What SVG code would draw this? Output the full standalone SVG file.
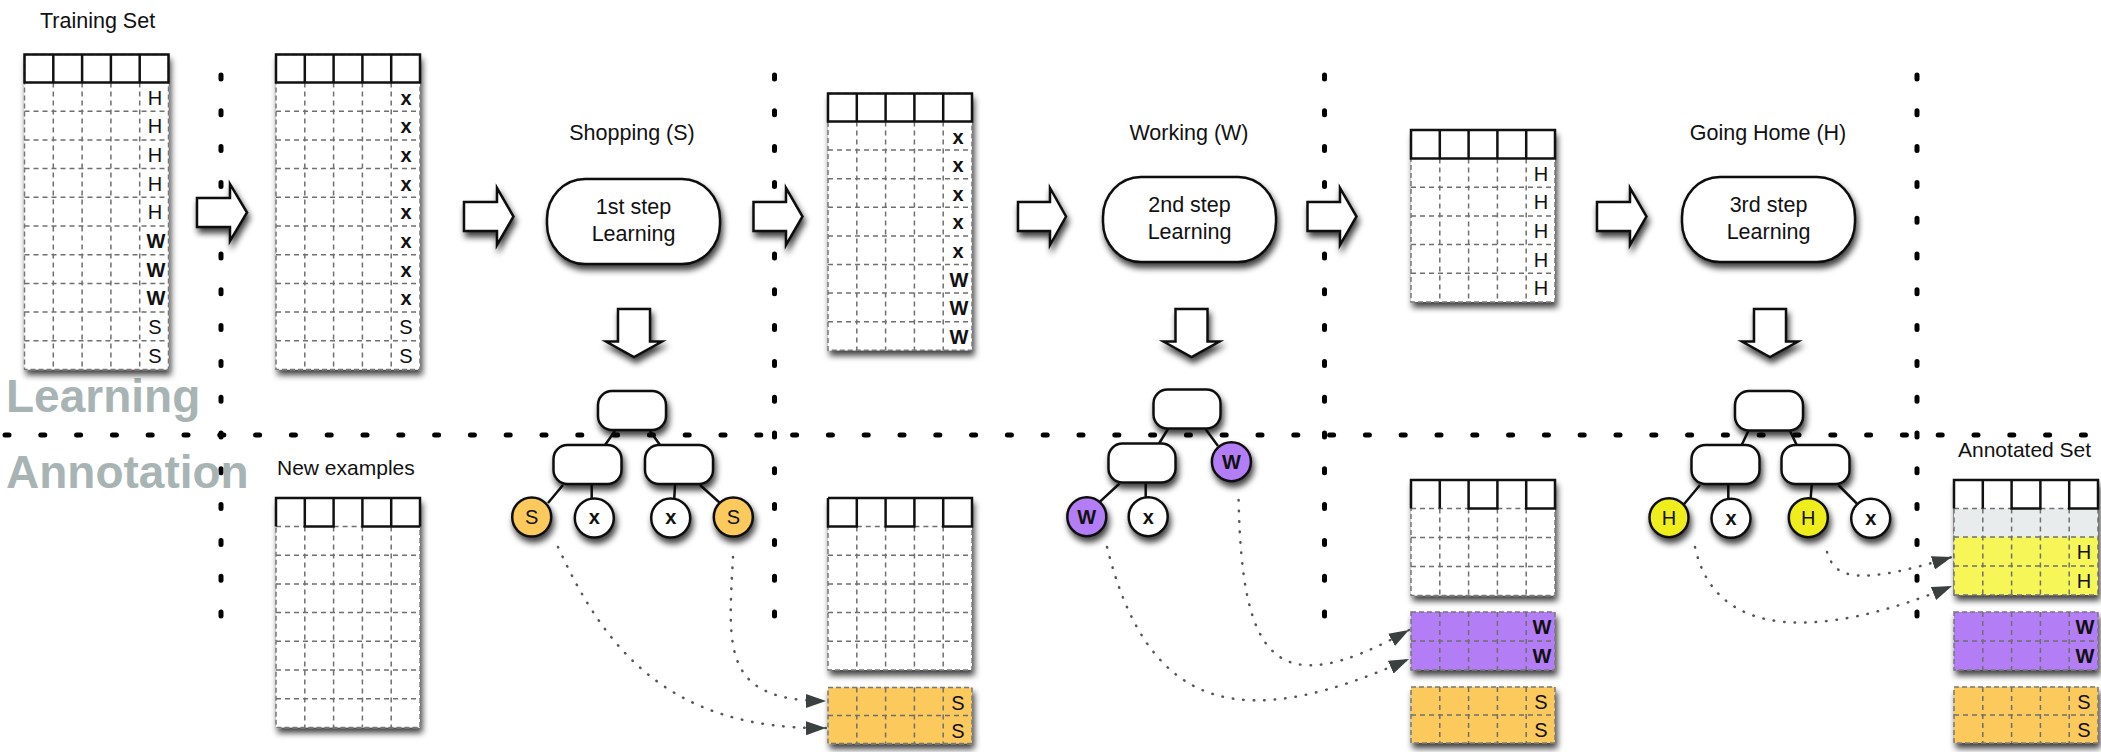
<svg xmlns="http://www.w3.org/2000/svg" width="2101" height="752" viewBox="0 0 2101 752">
<defs>
<filter id="sh" x="-20%" y="-20%" width="150%" height="160%"><feDropShadow dx="2" dy="5" stdDeviation="3" flood-color="#000" flood-opacity="0.75"/></filter>
<marker id="ah" markerUnits="userSpaceOnUse" markerWidth="20" markerHeight="14" refX="20" refY="7" orient="auto"><path d="M0,0 L20,7 L0,14 Z" fill="#3a3f3f"/></marker>
</defs>
<style>
.sh{filter:url(#sh)}
.bd{fill:#fff;stroke:#777;stroke-width:1.5;stroke-dasharray:5 3}
.g{fill:none;stroke:#6f6f6f;stroke-width:1.5;stroke-dasharray:5 4}
.hd{fill:none;stroke:#111;stroke-width:2.5}
.ln{fill:none;stroke:#111;stroke-width:2.5}
.fw{fill:#fff;stroke:#111;stroke-width:2.5}
.t{font-family:"Liberation Sans",Arial,sans-serif;fill:#111}
.lb{font-family:"Liberation Sans",Arial,sans-serif;font-size:20px;text-anchor:middle;fill:#111}
.b{font-weight:bold}
.big{font-family:"Liberation Sans",Arial,sans-serif;font-size:46px;font-weight:bold;fill:#a8b4b4}
.dv{stroke:#000;stroke-width:5;stroke-linecap:round;stroke-dasharray:4 31.8}
.dc{fill:none;stroke:#555;stroke-width:2.5;stroke-linecap:round;stroke-dasharray:0.5 10}
.or{fill:#fcc95c}
.pu{fill:#b37ef5}
.ye{fill:#f6f659}
.gr{fill:#e8ecec}
</style>

<g id="separators">
<line class="dv" x1="5" y1="435" x2="2101" y2="435"/>
<line class="dv" x1="221" y1="75" x2="221" y2="620"/>
<line class="dv" x1="774.5" y1="75" x2="774.5" y2="620"/>
<line class="dv" x1="1324.5" y1="75" x2="1324.5" y2="620"/>
<line class="dv" x1="1917" y1="75" x2="1917" y2="620"/>
</g>

<g id="phase-labels">
<text class="big" x="6" y="412">Learning</text>
<text class="big" x="6" y="488">Annotation</text>
</g>

<g id="training-set">
<text class="t" x="40" y="28" font-size="21.5">Training Set</text>
<rect class="bd sh" x="24.5" y="54.5" width="144" height="315"/>
<path class="g" d="M24.5,111.2H168.5M24.5,139.9H168.5M24.5,168.6H168.5M24.5,197.3H168.5M24.5,226H168.5M24.5,254.7H168.5M24.5,283.4H168.5M24.5,312.1H168.5M24.5,340.8H168.5M53.3,82.5V369.5M82.1,82.5V369.5M110.9,82.5V369.5M139.7,82.5V369.5"/>
<path class="hd" d="M24.5,54.5H168.5V82.5H24.5ZM53.3,54.5V82.5M82.1,54.5V82.5M110.9,54.5V82.5M139.7,54.5V82.5"/>
<text class="lb" x="155" y="104.5">H</text><text class="lb" x="155" y="133.2">H</text><text class="lb" x="155" y="161.9">H</text><text class="lb" x="155" y="190.6">H</text><text class="lb" x="155" y="219.3">H</text>
<text class="lb b" x="156" y="248">W</text><text class="lb b" x="156" y="276.7">W</text><text class="lb b" x="156" y="305.4">W</text>
<text class="lb" x="155" y="334.1">S</text><text class="lb" x="155" y="362.8">S</text>
</g>

<g id="relabelled-set">
<rect class="bd sh" x="276" y="54.5" width="144" height="315"/>
<path class="g" d="M276,111.2H420M276,139.9H420M276,168.6H420M276,197.3H420M276,226H420M276,254.7H420M276,283.4H420M276,312.1H420M276,340.8H420M304.8,82.5V369.5M333.6,82.5V369.5M362.4,82.5V369.5M391.2,82.5V369.5"/>
<path class="hd" d="M276,54.5H420V82.5H276ZM304.8,54.5V82.5M333.6,54.5V82.5M362.4,54.5V82.5M391.2,54.5V82.5"/>
<text class="lb b" x="406" y="104.5">x</text><text class="lb b" x="406" y="133.2">x</text><text class="lb b" x="406" y="161.9">x</text><text class="lb b" x="406" y="190.6">x</text><text class="lb b" x="406" y="219.3">x</text><text class="lb b" x="406" y="248">x</text><text class="lb b" x="406" y="276.7">x</text><text class="lb b" x="406" y="305.4">x</text>
<text class="lb" x="406" y="334.1">S</text><text class="lb" x="406" y="362.8">S</text>
</g>

<g id="block-arrows">
<path class="fw sh" d="M197,198H230V184L247,212.5L230,241V227H197Z"/>
<path class="fw sh" d="M464,202H497V188L513.5,216.5L497,245V231H464Z"/>
<path class="fw sh" d="M753.5,202H786V188L802.5,216.5L786,245V231H753.5Z"/>
<path class="fw sh" d="M1018,202H1050V188L1066,216.5L1050,245V231H1018Z"/>
<path class="fw sh" d="M1307.5,202H1340V188L1356.5,216.5L1340,245V231H1307.5Z"/>
<path class="fw sh" d="M1597,202H1630V188L1646.5,216.5L1630,245V231H1597Z"/>
<path class="fw sh" d="M618,309H650V341.5H662L634,357L606,341.5H618Z"/>
<path class="fw sh" d="M1175.5,309H1207.5V341.5H1219.5L1191.5,357L1163.5,341.5H1175.5Z"/>
<path class="fw sh" d="M1754,309H1786V341.5H1798L1770,357L1742,341.5H1754Z"/>
</g>

<g id="step1">
<text class="t" x="632" y="140" font-size="21.5" text-anchor="middle">Shopping (S)</text>
<rect class="fw sh" x="547" y="179" width="173" height="85" rx="38" ry="40"/>
<text class="t" x="633.5" y="214" font-size="21.5" text-anchor="middle">1st step</text>
<text class="t" x="633.5" y="241" font-size="21.5" text-anchor="middle">Learning</text>
</g>

<g id="step2">
<text class="t" x="1189" y="140" font-size="21.5" text-anchor="middle">Working (W)</text>
<rect class="fw sh" x="1103" y="177" width="173" height="85" rx="38" ry="40"/>
<text class="t" x="1189.5" y="212" font-size="21.5" text-anchor="middle">2nd step</text>
<text class="t" x="1189.5" y="239" font-size="21.5" text-anchor="middle">Learning</text>
</g>

<g id="step3">
<text class="t" x="1768" y="140" font-size="21.5" text-anchor="middle">Going Home (H)</text>
<rect class="fw sh" x="1682" y="177" width="173" height="85" rx="38" ry="40"/>
<text class="t" x="1768.5" y="212" font-size="21.5" text-anchor="middle">3rd step</text>
<text class="t" x="1768.5" y="239" font-size="21.5" text-anchor="middle">Learning</text>
</g>

<g id="set-after-step1">
<rect class="bd sh" x="828" y="93.5" width="144" height="256.8"/>
<path class="g" d="M828,150.1H972M828,178.7H972M828,207.3H972M828,235.9H972M828,264.5H972M828,293.1H972M828,321.7H972M856.8,121.5V350.3M885.6,121.5V350.3M914.4,121.5V350.3M943.2,121.5V350.3"/>
<path class="hd" d="M828,93.5H972V121.5H828ZM856.8,93.5V121.5M885.6,93.5V121.5M914.4,93.5V121.5M943.2,93.5V121.5"/>
<text class="lb b" x="958" y="143.5">x</text><text class="lb b" x="958" y="172.1">x</text><text class="lb b" x="958" y="200.7">x</text><text class="lb b" x="958" y="229.3">x</text><text class="lb b" x="958" y="257.9">x</text>
<text class="lb b" x="959" y="286.5">W</text><text class="lb b" x="959" y="315.1">W</text><text class="lb b" x="959" y="343.7">W</text>
</g>

<g id="set-after-step2">
<rect class="bd sh" x="1411" y="130" width="144" height="172"/>
<path class="g" d="M1411,187.2H1555M1411,215.9H1555M1411,244.6H1555M1411,273.3H1555M1439.8,158.5V302M1468.6,158.5V302M1497.4,158.5V302M1526.2,158.5V302"/>
<path class="hd" d="M1411,130H1555V158.5H1411ZM1439.8,130V158.5M1468.6,130V158.5M1497.4,130V158.5M1526.2,130V158.5"/>
<text class="lb" x="1541" y="180.5">H</text><text class="lb" x="1541" y="209.2">H</text><text class="lb" x="1541" y="237.9">H</text><text class="lb" x="1541" y="266.6">H</text><text class="lb" x="1541" y="295.3">H</text>
</g>

<g id="tree1">
<path class="ln" d="M615,431L605,445M650,431L660,445M563,485L548,503M591.7,485V498M675,485L674.3,498M700,485L720,503"/>
<rect class="fw sh" x="598" y="391" width="68" height="39" rx="14"/>
<rect class="fw sh" x="553.5" y="445" width="68" height="39" rx="14"/>
<rect class="fw sh" x="645" y="445" width="68" height="39" rx="14"/>
<circle class="sh or" cx="531.7" cy="517" r="19.5" stroke="#111" stroke-width="2.5"/>
<circle class="fw sh" cx="594.3" cy="518" r="19.5"/>
<circle class="fw sh" cx="670.7" cy="518" r="19.5"/>
<circle class="sh or" cx="733.3" cy="517" r="19.5" stroke="#111" stroke-width="2.5"/>
<text class="lb" x="531.7" y="524">S</text><text class="lb b" x="594.3" y="524">x</text><text class="lb b" x="670.7" y="524">x</text><text class="lb" x="733.3" y="524">S</text>
</g>

<g id="tree2">
<path class="ln" d="M1168,429L1159,443.5M1205.5,429L1218,446M1119.6,483.5L1100,501.7M1145.7,483.5V497"/>
<rect class="fw sh" x="1153.5" y="389.5" width="67" height="39" rx="14"/>
<rect class="fw sh" x="1108.5" y="443.5" width="67" height="39" rx="14"/>
<circle class="sh pu" cx="1231.4" cy="461.7" r="19.5" stroke="#111" stroke-width="2.5"/>
<circle class="sh pu" cx="1086.8" cy="516.7" r="19.5" stroke="#111" stroke-width="2.5"/>
<circle class="fw sh" cx="1148.2" cy="516.7" r="19.5"/>
<text class="lb b" x="1231.4" y="468.5">W</text><text class="lb b" x="1086.8" y="523.5">W</text><text class="lb b" x="1148.2" y="523.5">x</text>
</g>

<g id="tree3">
<path class="ln" d="M1748.3,431L1741.7,445M1790,431L1796.7,445M1700,485L1683.3,505M1728.3,485V498M1811.7,485L1810.7,498M1838.3,485L1858.3,505"/>
<rect class="fw sh" x="1735" y="391" width="68" height="39.5" rx="14"/>
<rect class="fw sh" x="1691.5" y="445" width="68" height="39" rx="14"/>
<rect class="fw sh" x="1781.5" y="445" width="68" height="39" rx="14"/>
<circle class="sh" cx="1669" cy="517.7" r="19.5" fill="#efed1f" stroke="#111" stroke-width="2.5"/>
<circle class="fw sh" cx="1731" cy="518.3" r="19.5"/>
<circle class="sh" cx="1808.3" cy="517.7" r="19.5" fill="#efed1f" stroke="#111" stroke-width="2.5"/>
<circle class="fw sh" cx="1870.7" cy="518.3" r="19.5"/>
<text class="lb" x="1669" y="524.5">H</text><text class="lb b" x="1731" y="524.5">x</text><text class="lb" x="1808.3" y="524.5">H</text><text class="lb b" x="1870.7" y="524.5">x</text>
</g>

<g id="new-examples">
<text class="t" x="277" y="475" font-size="21">New examples</text>
<rect class="bd sh" x="276" y="498" width="144" height="229.4"/>
<path class="g" d="M276,526.5H304.8M333.6,526.5H362.4M276,555.2H420M276,583.9H420M276,612.6H420M276,641.3H420M276,670H420M276,698.7H420M304.8,526.5V727.4M333.6,526.5V727.4M362.4,526.5V727.4M391.2,526.5V727.4"/>
<path class="hd" d="M276,526.5V498H420V526.5M304.8,498V526.5H333.6V498M362.4,498V526.5H420M391.2,498V526.5"/>
</g>

<g id="annotation-after-step1">
<rect class="bd sh" x="828" y="498" width="144" height="172"/>
<path class="g" d="M856.8,526.5H885.6M914.4,526.5H943.2M828,555.2H972M828,583.9H972M828,612.6H972M828,641.3H972M856.8,526.5V670M885.6,526.5V670M914.4,526.5V670M943.2,526.5V670"/>
<path class="hd" d="M828,498H972V526.5H943.2V498M828,498V526.5H856.8V498M885.6,498V526.5H914.4V498"/>
<rect class="bd sh or" x="828" y="687.5" width="144" height="56"/>
<path class="g" d="M828,715.5H972M856.8,687.5V743.5M885.6,687.5V743.5M914.4,687.5V743.5M943.2,687.5V743.5"/>
<text class="lb" x="958" y="709.5">S</text><text class="lb" x="958" y="737.5">S</text>
</g>

<g id="annotation-after-step2">
<rect class="bd sh" x="1411" y="480" width="144" height="115.5"/>
<path class="g" d="M1411,508.5H1468.6M1497.4,508.5H1526.2M1411,537.5H1555M1411,566.5H1555M1439.8,508.5V595.5M1468.6,508.5V595.5M1497.4,508.5V595.5M1526.2,508.5V595.5"/>
<path class="hd" d="M1411,508.5V480H1555V508.5H1526.2V480M1439.8,480V508.5M1468.6,480V508.5H1497.4V480"/>
<rect class="bd sh pu" x="1411" y="612" width="144" height="58"/>
<path class="g" d="M1411,641H1555M1439.8,612V670M1468.6,612V670M1497.4,612V670M1526.2,612V670"/>
<text class="lb b" x="1542" y="634">W</text><text class="lb b" x="1542" y="663">W</text>
<rect class="bd sh or" x="1411" y="687" width="144" height="56"/>
<path class="g" d="M1411,715H1555M1439.8,687V743M1468.6,687V743M1497.4,687V743M1526.2,687V743"/>
<text class="lb" x="1541" y="709">S</text><text class="lb" x="1541" y="737">S</text>
</g>

<g id="annotated-set">
<text class="t" x="1958" y="457" font-size="21">Annotated Set</text>
<rect class="bd sh" x="1954" y="480" width="144" height="115"/>
<rect class="gr" x="1954" y="508.5" width="144" height="28.5"/>
<rect class="ye" x="1954" y="537" width="144" height="58"/>
<path class="g" d="M1954,508.5H2011.6M2040.4,508.5H2069.2M1954,537H2098M1954,566H2098M1954,595H2098M1954,508.5V595M2098,508.5V595M1982.8,508.5V595M2011.6,508.5V595M2040.4,508.5V595M2069.2,508.5V595"/>
<path class="hd" d="M1954,508.5V480H2098V508.5H2069.2V480M1982.8,480V508.5M2011.6,480V508.5H2040.4V480"/>
<text class="lb" x="2084" y="559">H</text><text class="lb" x="2084" y="588">H</text>
<rect class="bd sh pu" x="1954" y="612" width="144" height="58"/>
<path class="g" d="M1954,641H2098M1982.8,612V670M2011.6,612V670M2040.4,612V670M2069.2,612V670"/>
<text class="lb b" x="2085" y="634">W</text><text class="lb b" x="2085" y="663">W</text>
<rect class="bd sh or" x="1954" y="687" width="144" height="56"/>
<path class="g" d="M1954,715H2098M1982.8,687V743M2011.6,687V743M2040.4,687V743M2069.2,687V743"/>
<text class="lb" x="2084" y="709">S</text><text class="lb" x="2084" y="737">S</text>
</g>

<g id="connectors">
<path class="dc" d="M558,547C605,650 670,730 826,728" marker-end="url(#ah)"/>
<path class="dc" d="M733,557C728,650 722,701 826,701" marker-end="url(#ah)"/>
<path class="dc" d="M1107,547C1150,720 1250,730 1409,659" marker-end="url(#ah)"/>
<path class="dc" d="M1238.6,500C1242,660 1275,705 1409,630" marker-end="url(#ah)"/>
<path class="dc" d="M1695,547C1715,640 1820,640 1952,586" marker-end="url(#ah)"/>
<path class="dc" d="M1827,552C1835,580 1860,585 1952,557" marker-end="url(#ah)"/>
</g>
</svg>
